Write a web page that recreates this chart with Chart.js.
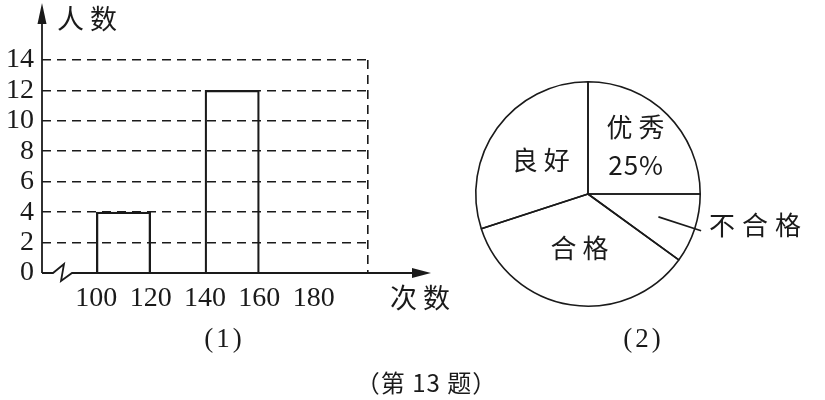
<!DOCTYPE html>
<html>
<head>
<meta charset="utf-8">
<script src="https://cdn.jsdelivr.net/npm/chart.js@4/dist/chart.umd.min.js"></script>
<style>
  html, body { margin: 0; padding: 0; background: #fff; }
  #wrap { position: relative; width: 825px; height: 400px; }
  canvas { position: absolute; left: 0; top: 0; }
</style>
</head>
<body>
<div id="wrap">
  <canvas id="hist" width="825" height="400"></canvas>
  <canvas id="pie" width="825" height="400"></canvas>
</div>
<script>
// histogram data (次数 bins, 人数)
const binMids = [110, 130, 150, 170, 190];
const counts = [4, null, 12, null, null];
const xTickLabels = [100, 120, 140, 160, 180];
const yTickLabels = [0, 2, 4, 6, 8, 10, 12, 14];

// pie data
const grades = ["优秀", "不合格", "合格", "良好"];
const shares = [25, 10, 35, 30];

const INK = "#1a1a1a";
const FONT = '"Liberation Serif", "Noto Sans CJK SC", serif';
const CJK = '"Noto Sans CJK SC", sans-serif';

// draws centred text with letter spacing (canvas adds spacing after each glyph)
function spaced(ctx, txt, x, y, sp) {
  ctx.letterSpacing = sp + "px";
  ctx.fillText(txt, x + sp / 2, y);
  ctx.letterSpacing = "0px";
}

const axesPlugin = {
  id: "axes",
  afterDraw(chart) {
    const ctx = chart.ctx;
    const a = chart.chartArea;
    const y0 = chart.scales.y.getPixelForValue(0);
    const x0 = a.left;
    ctx.save();
    ctx.strokeStyle = INK;
    ctx.fillStyle = INK;
    ctx.lineWidth = 1.8;

    // y axis + arrow
    ctx.beginPath();
    ctx.moveTo(x0, y0);
    ctx.lineTo(x0, 14);
    ctx.stroke();
    ctx.beginPath();
    ctx.moveTo(x0, 3);
    ctx.lineTo(x0 - 4.5, 24);
    ctx.lineTo(x0 + 4.5, 24);
    ctx.closePath();
    ctx.fill();

    // x axis with break + arrow
    ctx.beginPath();
    ctx.moveTo(x0, y0);
    ctx.lineTo(x0 + 11, y0);
    ctx.lineTo(x0 + 22, y0 - 9);
    ctx.lineTo(x0 + 19, y0 + 8);
    ctx.lineTo(x0 + 30, y0);
    ctx.lineTo(418, y0);
    ctx.stroke();
    ctx.beginPath();
    ctx.moveTo(431, y0);
    ctx.lineTo(412, y0 - 5);
    ctx.lineTo(412, y0 + 5);
    ctx.closePath();
    ctx.fill();

    ctx.textAlign = "center";
    ctx.textBaseline = "middle";
    ctx.font = "27px " + CJK;
    spaced(ctx, "人数", 87, 19, 6);
    spaced(ctx, "次数", 420, 298, 6);

    ctx.font = "27px " + FONT;
    spaced(ctx, "(1)", 223, 340, 3);
    spaced(ctx, "(2)", 642, 340, 3);
    ctx.font = "24px " + CJK;
    spaced(ctx, "（第 13 题）", 426, 383, 1);
    ctx.restore();
  }
};

new Chart(document.getElementById("hist"), {
  type: "bar",
  data: {
    datasets: [{
      data: binMids.map((x, i) => ({ x: x, y: counts[i] })),
      backgroundColor: "rgba(255,255,255,0)",
      borderColor: INK,
      borderWidth: 1.6,
      borderSkipped: "start",
      barPercentage: 1,
      categoryPercentage: 1
    }]
  },
  options: {
    responsive: false,
    animation: false,
    layout: { padding: { left: 0, top: 60, right: 457, bottom: 0 } },
    plugins: { legend: { display: false }, tooltip: { enabled: false } },
    scales: {
      x: {
        type: "linear",
        offset: false,
        min: 80,
        max: 200,
        afterFit: (s) => { s.height = 127; s.paddingLeft = 0; s.paddingRight = 0; },
        ticks: {
          stepSize: 20,
          autoSkip: false,
          maxRotation: 0,
          padding: 9,
          color: INK,
          font: { family: FONT, size: 28 },
          callback: (v) => xTickLabels.includes(v) ? String(v) : ""
        },
        grid: {
          offset: false,
          drawTicks: false,
          lineWidth: 1.6,
          color: (c) => (c.tick && c.tick.value === 200) ? INK : "rgba(0,0,0,0)"
        },
        border: { display: false, dash: [9, 6] }
      },
      y: {
        min: 0,
        max: 14,
        afterFit: (s) => { s.width = 42; },
        afterBuildTicks: (s) => { s.ticks = yTickLabels.map((v) => ({ value: v })); },
        ticks: {
          autoSkip: false,
          padding: 8,
          color: INK,
          font: { family: FONT, size: 28 }
        },
        grid: {
          drawTicks: false,
          lineWidth: 1.6,
          color: (c) => (c.tick && c.tick.value === 0) ? "rgba(0,0,0,0)" : INK
        },
        border: { display: false, dash: [9, 6] }
      }
    }
  },
  plugins: [axesPlugin]
});

const pieLabels = {
  id: "pieLabels",
  afterDatasetsDraw(chart) {
    const ctx = chart.ctx;
    const arcs = chart.getDatasetMeta(0).data;
    ctx.save();
    ctx.fillStyle = INK;
    ctx.strokeStyle = INK;
    ctx.lineWidth = 1.6;
    ctx.textBaseline = "middle";
    ctx.font = "26px " + CJK;
    arcs.forEach((arc, i) => {
      const p = arc.getProps(["x", "y", "startAngle", "endAngle", "outerRadius"], true);
      const mid = (p.startAngle + p.endAngle) / 2;
      const at = (f) => [p.x + Math.cos(mid) * p.outerRadius * f, p.y + Math.sin(mid) * p.outerRadius * f];
      const name = grades[i];
      if (name === "优秀") {
        const [tx, ty] = at(0.6);
        ctx.textAlign = "center";
        spaced(ctx, name, tx, ty - 19, 6);
        spaced(ctx, shares[i] + "%", tx, ty + 19, 1);
      } else if (name === "不合格") {
        const [sx, sy] = at(0.66);
        const [ex, ey] = at(1.06);
        ctx.beginPath();
        ctx.moveTo(sx, sy);
        ctx.lineTo(ex, ey);
        ctx.stroke();
        ctx.textAlign = "left";
        ctx.letterSpacing = "7px";
        ctx.fillText(name, ex + 8, ey - 6);
        ctx.letterSpacing = "0px";
      } else {
        const [tx, ty] = at(name === "良好" ? 0.52 : 0.49);
        ctx.textAlign = "center";
        spaced(ctx, name, tx, ty, 6);
      }
    });
    ctx.restore();
  }
};

new Chart(document.getElementById("pie"), {
  type: "pie",
  data: {
    labels: grades,
    datasets: [{
      data: shares,
      backgroundColor: "rgba(255,255,255,0)",
      borderColor: INK,
      borderWidth: 1.6
    }]
  },
  options: {
    responsive: false,
    animation: false,
    layout: { padding: { left: 475, right: 124, top: 81, bottom: 93 } },
    plugins: { legend: { display: false }, tooltip: { enabled: false } }
  },
  plugins: [pieLabels]
});
</script>
</body>
</html>
